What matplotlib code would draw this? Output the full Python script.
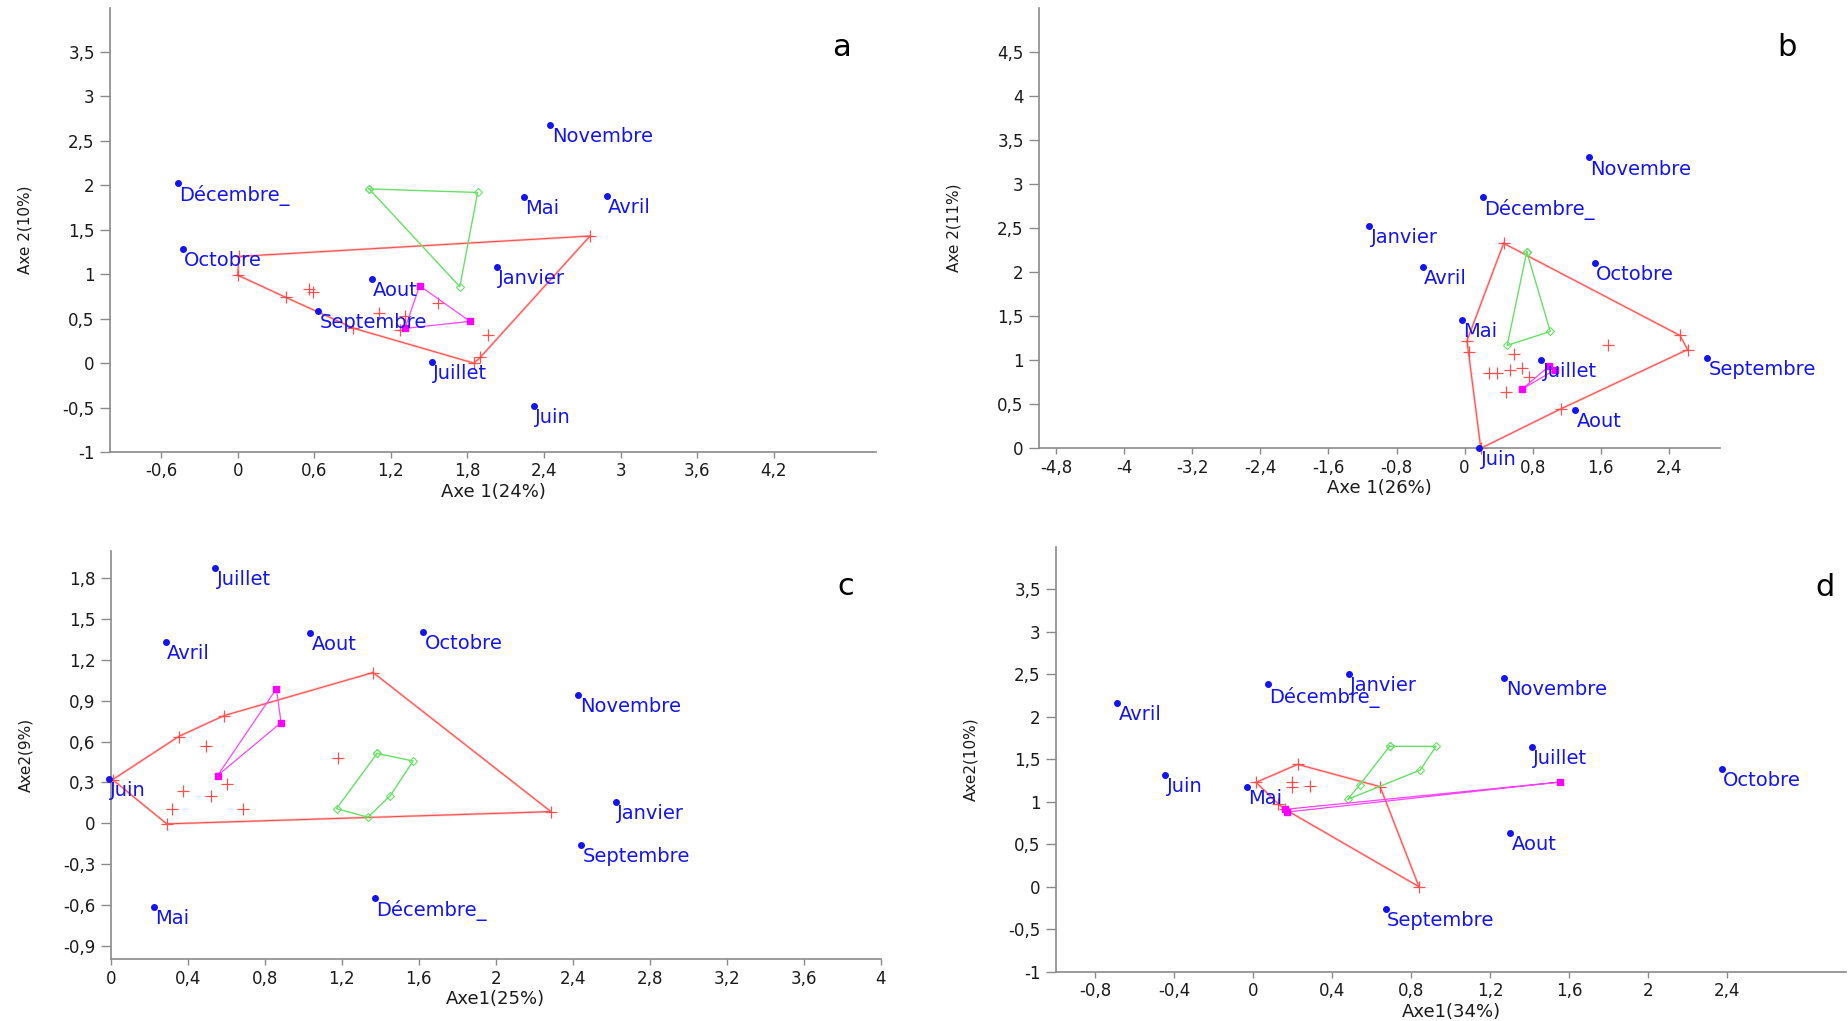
import numpy as np
import matplotlib.pyplot as plt
from matplotlib.ticker import FixedLocator, FuncFormatter
from matplotlib.transforms import offset_copy

# ---- panel a ----
mois_a = ["Décembre_", "Octobre", "Novembre", "Mai", "Avril", "Janvier", "Aout", "Septembre", "Juillet", "Juin"]
axe1_a = [-0.47, -0.43, 2.45, 2.24, 2.89, 2.03, 1.05, 0.63, 1.52, 2.32]
axe2_a = [2.03, 1.28, 2.68, 1.87, 1.88, 1.08, 0.95, 0.585, 0.01, -0.48]
rouge_x_a = [0.0, 0.01, 2.76, 1.90, 1.85, 0.905, 0.377, 0.556, 0.59, 1.11, 1.31, 1.27, 1.57, 1.96]
rouge_y_a = [0.99, 1.2, 1.43, 0.064, 0.0, 0.394, 0.74, 0.83, 0.80, 0.56, 0.53, 0.375, 0.675, 0.32]
enveloppe_a = [0, 1, 2, 3, 4, 5, 6]
vert_x_a = [1.03, 1.88, 1.74]
vert_y_a = [1.96, 1.92, 0.86]
rose_x_a = [1.425, 1.82, 1.31]
rose_y_a = [0.87, 0.47, 0.39]

# ---- panel b ----
mois_b = ["Novembre", "Décembre_", "Janvier", "Avril", "Octobre", "Mai", "Juillet", "Septembre", "Aout", "Juin"]
axe1_b = [1.46, 0.215, -1.12, -0.49, 1.53, -0.035, 0.90, 2.85, 1.30, 0.17]
axe2_b = [3.30, 2.856, 2.52, 2.06, 2.10, 1.455, 1.0, 1.02, 0.43, 0.0]
rouge_x_b = [0.458, 2.53, 2.62, 1.13, 0.19, 0.028, 0.055, 1.68, 0.576, 0.29, 0.38, 0.53, 0.67, 0.756, 0.486]
rouge_y_b = [2.326, 1.28, 1.12, 0.447, 0.0, 1.22, 1.09, 1.17, 1.07, 0.85, 0.85, 0.886, 0.91, 0.81, 0.644]
enveloppe_b = [0, 1, 2, 3, 4, 5]
vert_x_b = [0.73, 1.006, 0.50]
vert_y_b = [2.23, 1.326, 1.167]
rose_x_b = [0.673, 0.99, 1.06]
rose_y_b = [0.67, 0.93, 0.89]

# ---- panel c ----
mois_c = ["Juillet", "Avril", "Aout", "Octobre", "Novembre", "Juin", "Janvier", "Septembre", "Décembre_", "Mai"]
axe1_c = [0.543, 0.285, 1.036, 1.624, 2.43, -0.01, 2.625, 2.444, 1.372, 0.226]
axe2_c = [1.875, 1.335, 1.40, 1.406, 0.944, 0.324, 0.153, -0.163, -0.55, -0.618]
rouge_x_c = [1.363, 2.287, 0.291, 0.01, 0.353, 0.588, 0.493, 1.179, 0.603, 0.377, 0.52, 0.318, 0.686]
rouge_y_c = [1.107, 0.085, -0.005, 0.32, 0.637, 0.79, 0.564, 0.477, 0.287, 0.238, 0.20, 0.105, 0.105]
enveloppe_c = [0, 1, 2, 3, 4, 5]
vert_x_c = [1.384, 1.571, 1.452, 1.336, 1.173]
vert_y_c = [0.513, 0.457, 0.202, 0.044, 0.107]
rose_x_c = [0.861, 0.885, 0.555]
rose_y_c = [0.988, 0.739, 0.35]

# ---- panel d ----
mois_d = ["Janvier", "Décembre_", "Novembre", "Avril", "Juillet", "Juin", "Mai", "Octobre", "Aout", "Septembre"]
axe1_d = [0.483, 0.072, 1.27, -0.69, 1.41, -0.446, -0.035, 2.37, 1.30, 0.67]
axe2_d = [2.50, 2.38, 2.46, 2.16, 1.65, 1.32, 1.177, 1.385, 0.628, -0.267]
rouge_x_d = [0.013, 0.224, 0.641, 0.838, 0.16, 0.126, 0.197, 0.197, 0.284]
rouge_y_d = [1.228, 1.44, 1.177, 0.0, 0.91, 0.973, 1.236, 1.177, 1.189]
enveloppe_d = [0, 1, 2, 3, 4, 5]
vert_x_d = [0.689, 0.924, 0.844, 0.477, 0.537]
vert_y_d = [1.652, 1.652, 1.373, 1.028, 1.197]
rose_x_d = [1.552, 0.159, 0.171]
rose_y_d = [1.232, 0.91, 0.879]

W, H = 1849, 1021
fig = plt.figure(figsize=(W / 100, H / 100), dpi=100)

GRIS = "#8a8a8a"
BLEU = "#1414f2"
ROUGE = "#ff5050"


def virgule(v, pos=None):
    v = round(v, 2)
    if v == 0:
        return "0"
    return f"{v:g}".replace(".", ",")


def panel(box, lettre, lettre_xy, xlim, ylim, xt, yt, xlabel, ylabel,
          mois, x1, x2, rx, ry, env, vx, vy, px, py):
    l, r, t, b = box
    ax = fig.add_axes([l / W, 1 - b / H, (r - l) / W, (b - t) / H])
    ax.set_xlim(*xlim)
    ax.set_ylim(*ylim)
    for s in ["top", "right"]:
        ax.spines[s].set_visible(False)
    for s in ["left", "bottom"]:
        ax.spines[s].set_color(GRIS)
        ax.spines[s].set_linewidth(1.2)
    ax.xaxis.set_major_locator(FixedLocator(xt))
    ax.yaxis.set_major_locator(FixedLocator(yt))
    ax.xaxis.set_major_formatter(FuncFormatter(virgule))
    ax.yaxis.set_major_formatter(FuncFormatter(virgule))
    ax.tick_params(axis="x", length=4.5, width=1, color=GRIS, labelsize=12,
                   labelcolor="#1a1a1a", pad=3)
    ax.tick_params(axis="y", length=7, width=1, color=GRIS, labelsize=12,
                   labelcolor="#1a1a1a", pad=4)

    # enveloppe rouge
    hx = [rx[i] for i in env] + [rx[env[0]]]
    hy = [ry[i] for i in env] + [ry[env[0]]]
    ax.plot(hx, hy, color=ROUGE, lw=1.8, alpha=0.3, clip_on=False)
    ax.plot(hx, hy, color=ROUGE, lw=0.8, clip_on=False)
    ax.plot(rx, ry, "+", color=ROUGE, ms=8, mew=0.9, clip_on=False)

    # polygone vert
    ax.plot(list(vx) + [vx[0]], list(vy) + [vy[0]], color="#66e066", lw=1.0,
            marker="D", ms=4.5, mfc="none", mew=0.8, clip_on=False)
    # polygone magenta
    ax.plot(list(px) + [px[0]], list(py) + [py[0]], color="#ff44ff", lw=0.9, clip_on=False)
    ax.plot(px, py, "s", color="#ff00ff", ms=4.5, clip_on=False)

    # mois
    ax.plot(x1, x2, "o", color=BLEU, ms=4, clip_on=False, zorder=5)
    for m, a1, a2 in zip(mois, x1, x2):
        ax.annotate(m, (a1, a2), xytext=(1, -1.5), textcoords="offset points",
                    ha="left", va="top", fontsize=14, color=BLEU, zorder=6,
                    annotation_clip=False)

    ax.set_xlabel(xlabel, fontsize=13, color="#1a1a1a")
    ax.xaxis.set_label_coords(0.5, 0, transform=offset_copy(ax.transAxes, fig=fig, y=-40, units="dots"))
    ax.xaxis.label.set_va("center")
    ax.set_ylabel(ylabel, fontsize=11, color="#1a1a1a")
    ax.yaxis.set_label_coords(0, 0.5, transform=offset_copy(ax.transAxes, fig=fig, x=-85, units="dots"))
    ax.yaxis.label.set_va("center")

    fig.text(lettre_xy[0] / W, 1 - lettre_xy[1] / H, lettre, fontsize=22,
             ha="center", va="center", color="black")
    return ax


panel((110, 876, 7.6, 452), "a", (842, 48), (-1, 5), (-1, 4),
      np.arange(-0.6, 4.3, 0.6), np.arange(-1, 3.6, 0.5),
      "Axe 1(24%)", "Axe 2(10%)",
      mois_a, axe1_a, axe2_a, rouge_x_a, rouge_y_a, enveloppe_a,
      vert_x_a, vert_y_a, rose_x_a, rose_y_a)

panel((1039, 1720, 7.6, 448.3), "b", (1787, 47), (-5, 3), (0, 5),
      np.arange(-4.8, 2.5, 0.8), np.arange(0, 4.6, 0.5),
      "Axe 1(26%)", "Axe 2(11%)",
      mois_b, axe1_b, axe2_b, rouge_x_b, rouge_y_b, enveloppe_b,
      vert_x_b, vert_y_b, rose_x_b, rose_y_b)

panel((110.7, 880.7, 551, 959.3), "c", (846, 586), (0, 4), (-1, 2),
      np.arange(0, 4.01, 0.4), np.arange(-0.9, 1.81, 0.3),
      "Axe1(25%)", "Axe2(9%)",
      mois_c, axe1_c, axe2_c, rouge_x_c, rouge_y_c, enveloppe_c,
      vert_x_c, vert_y_c, rose_x_c, rose_y_c)

panel((1056, 1846, 546.8, 971.7), "d", (1825, 587), (-1, 3), (-1, 4),
      np.arange(-0.8, 2.41, 0.4), np.arange(-1, 3.6, 0.5),
      "Axe1(34%)", "Axe2(10%)",
      mois_d, axe1_d, axe2_d, rouge_x_d, rouge_y_d, enveloppe_d,
      vert_x_d, vert_y_d, rose_x_d, rose_y_d)

fig.savefig("out.png", dpi=100)
